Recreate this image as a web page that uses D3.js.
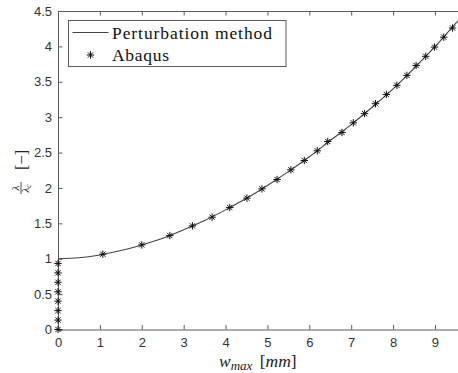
<!DOCTYPE html>
<html>
<head>
<meta charset="utf-8">
<script src="https://cdn.jsdelivr.net/npm/d3@7"></script>
<style>
  body { margin: 0; background: #fff; }
  svg { display: block; font-family: "Liberation Serif", "DejaVu Serif", serif; }
  .tick text { font-size: 13px; fill: #333; }
</style>
</head>
<body>
<div id="graf"></div>
<script>
// perturbation method curve
const curveW = [0, 0.5, 1, 1.5, 2, 2.5, 3, 3.5, 4, 4.5, 5, 5.5, 6, 6.5, 7, 7.5, 8, 8.5, 9, 9.5, 9.7]
const curveL = [1.0, 1.013, 1.053, 1.115, 1.195, 1.29, 1.41, 1.54, 1.69, 1.853, 2.035, 2.23, 2.44, 2.67, 2.895, 3.14, 3.40, 3.69, 3.995, 4.33, 4.46]

// Abaqus points
const abaqusW = [0, 0, 0, 0, 0, 0, 0, 0,
  1.07, 2.0, 2.67, 3.21, 3.68, 4.10, 4.51, 4.87, 5.23, 5.56, 5.88, 6.19, 6.44,
  6.78, 7.05, 7.32, 7.58, 7.84, 8.09, 8.33, 8.55, 8.78, 8.99, 9.21, 9.42]
const abaqusL = [0, 0.133, 0.267, 0.4, 0.533, 0.667, 0.8, 0.933,
  1.064, 1.195, 1.327, 1.464, 1.587, 1.723, 1.856, 1.987, 2.119, 2.256, 2.388, 2.525, 2.656,
  2.784, 2.92, 3.05, 3.19, 3.32, 3.45, 3.59, 3.73, 3.86, 3.99, 4.13, 4.26]

const xTicks = [0, 1, 2, 3, 4, 5, 6, 7, 8, 9]
const yTicks = [0, 0.5, 1, 1.5, 2, 2.5, 3, 3.5, 4, 4.5]
const legendLabels = ["Perturbation method", "Abaqus"]

const W = 458, H = 373
const margins = { left: 58, top: 11, right: 0, bottom: 43.5 }
const ancho = W - margins.left - margins.right
const alto = H - margins.top - margins.bottom
const axisColor = "#5a5a5a"

const svg = d3.select("#graf").append("svg")
  .attr("width", W)
  .attr("height", H)

const g = svg.append("g")
  .attr("transform", `translate(${margins.left}, ${margins.top})`)

const x = d3.scaleLinear().domain([0, 9.55]).range([0, ancho])
const y = d3.scaleLinear().domain([0, 4.5]).range([alto, 0])

g.append("clipPath").attr("id", "clip")
  .append("rect").attr("x", -6).attr("y", -6).attr("width", ancho + 12).attr("height", alto + 12)

// axes (ticks inward like matlab)
const xAxis = d3.axisBottom(x).tickValues(xTicks).tickSize(-4.5).tickPadding(8).tickFormat(d3.format("d"))
const yAxis = d3.axisLeft(y).tickValues(yTicks).tickSize(-4.5).tickPadding(6).tickFormat(d => d3.format("")(d))
const xTop = d3.axisTop(x).tickValues(xTicks).tickSize(-4.5).tickFormat("")

const gx = g.append("g").attr("transform", `translate(0, ${alto})`).call(xAxis)
const gy = g.append("g").call(yAxis)
const gt = g.append("g").call(xTop)
;[gx, gy, gt].forEach(a => {
  a.select(".domain").attr("stroke", axisColor).attr("stroke-width", 1)
  a.selectAll(".tick line").attr("stroke", axisColor)
  a.selectAll(".tick text").attr("font-family", null).attr("font-size", null)
})

// curve
const line = d3.line()
  .x((d, i) => x(curveW[i]))
  .y((d, i) => y(curveL[i]))
  .curve(d3.curveMonotoneX)

g.append("path")
  .datum(curveL)
  .attr("d", line)
  .attr("fill", "none")
  .attr("stroke", "#444")
  .attr("stroke-width", 1.1)
  .attr("clip-path", "url(#clip)")

// asterisk marker
const star = (r) => {
  const d = r * Math.SQRT1_2
  return `M0,${-r}L0,${r}M${-d},${-d}L${d},${d}M${-d},${d}L${d},${-d}M${-r},0L${r},0`
}

g.append("g").selectAll("path")
  .data(abaqusL)
  .join("path")
  .attr("transform", (d, i) => `translate(${x(abaqusW[i])}, ${y(d)})`)
  .attr("d", star(3.7))
  .attr("fill", "none")
  .attr("stroke", "#111")
  .attr("stroke-width", 1)
  .attr("clip-path", "url(#clip)")

// legend
const leg = svg.append("g")
leg.append("rect")
  .attr("x", 68.5).attr("y", 20.5).attr("width", 217.5).attr("height", 46)
  .attr("fill", "#fff").attr("stroke", axisColor).attr("stroke-width", 1)
leg.append("line")
  .attr("x1", 72.5).attr("x2", 108.5).attr("y1", 32.5).attr("y2", 32.5)
  .attr("stroke", "#444").attr("stroke-width", 1.1)
leg.append("path")
  .attr("transform", "translate(90.5, 55)")
  .attr("d", star(3.7))
  .attr("fill", "none").attr("stroke", "#111")
leg.selectAll("text.leg")
  .data(legendLabels)
  .join("text")
  .attr("class", "leg")
  .attr("x", 112)
  .attr("y", (d, i) => 38.5 + i * 22)
  .attr("font-size", 17.5)
  .attr("textLength", (d, i) => i === 0 ? 160 : 57)
  .attr("lengthAdjust", "spacing")
  .attr("fill", "#111")
  .text(d => d)

// x label: w_max [mm]
const xl = svg.append("text")
  .attr("x", 219)
  .attr("y", 367)
  .attr("font-size", 17.5)
  .attr("fill", "#222")
xl.append("tspan").attr("font-style", "italic").text("w")
xl.append("tspan").attr("font-style", "italic").attr("font-size", 13).attr("dy", 2.5).text("max")
xl.append("tspan").attr("dy", -2.5).attr("dx", 3).text(" [")
xl.append("tspan").attr("font-style", "italic").text("mm")
xl.append("tspan").text("]")

// y label: lambda / lambda_c [-] rotated
const yl = svg.append("g").attr("transform", "translate(21, 171) rotate(-90)")
yl.append("text")
  .attr("x", -17).attr("y", -2.5)
  .attr("text-anchor", "middle")
  .attr("font-size", 11).attr("font-style", "italic").attr("fill", "#222")
  .text("λ")
yl.append("line")
  .attr("x1", -23).attr("x2", -11).attr("y1", 0).attr("y2", 0)
  .attr("stroke", "#222").attr("stroke-width", 0.8)
const den = yl.append("text")
  .attr("x", -17.5).attr("y", 7.5)
  .attr("text-anchor", "middle")
  .attr("font-size", 11).attr("font-style", "italic").attr("fill", "#222")
den.append("tspan").text("λ")
den.append("tspan").attr("font-size", 7.5).attr("dy", 2).text("c")
yl.append("text")
  .attr("x", 1).attr("y", 5.5)
  .attr("font-size", 16.5).attr("fill", "#222")
  .text("[−]")
</script>
</body>
</html>
